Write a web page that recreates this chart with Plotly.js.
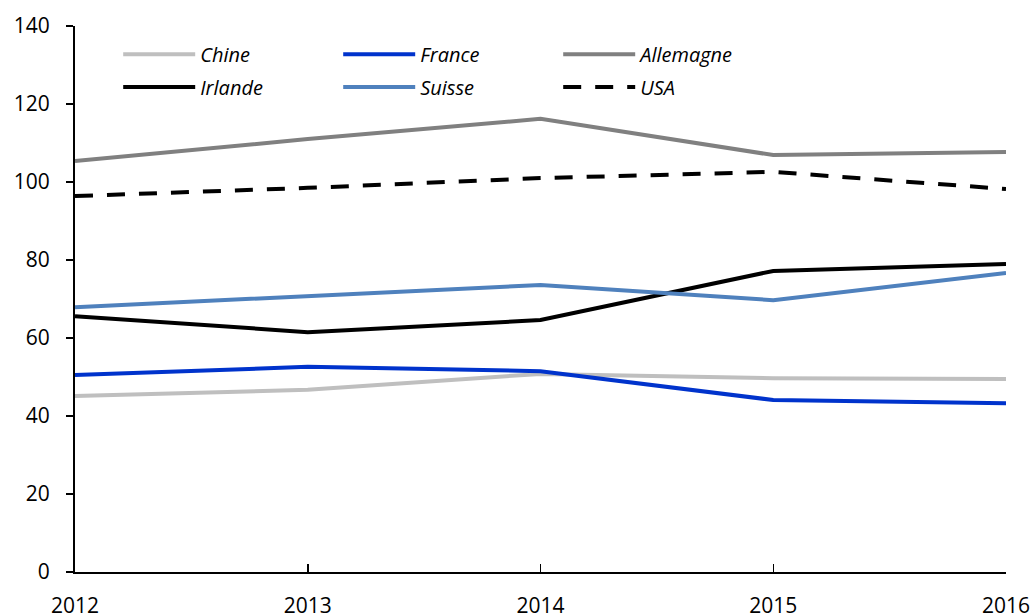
<!DOCTYPE html>
<html>
<head>
<meta charset="utf-8">
<script src="https://cdn.plot.ly/plotly-3.0.1.min.js"></script>
<style>
  html, body { margin: 0; padding: 0; background: #fff; }
  #chart { width: 1035px; height: 616px; }
</style>
</head>
<body>
<div id="chart"></div>
<script>
var years = [2012, 2013, 2014, 2015, 2016];

var chine     = [45.1, 46.7, 50.8, 49.7, 49.5];
var france    = [50.5, 52.6, 51.5, 44.1, 43.3];
var allemagne = [105.4, 111.0, 116.2, 106.9, 107.7];
var irlande   = [65.6, 61.5, 64.6, 77.2, 79.0];
var suisse    = [67.9, 70.8, 73.6, 69.7, 76.7];
var usa       = [96.4, 98.5, 101.0, 102.6, 98.2];

var yTicks = [0, 20, 40, 60, 80, 100, 120, 140];

function serie(name, y, color, dash, legend) {
    return {
        x: years, y: y, name: name, type: 'scatter', mode: 'lines',
        line: { color: color, width: 4, dash: dash || 'solid' },
        legend: legend
    };
}

var data = [
    serie('Chine', chine, '#bfbfbf', null, 'legend'),
    serie('France', france, '#0033cc', null, 'legend'),
    serie('Allemagne', allemagne, '#808080', null, 'legend'),
    serie('Irlande', irlande, '#000000', null, 'legend2'),
    serie('Suisse', suisse, '#4f81bd', null, 'legend2'),
    serie('USA', usa, '#000000', '18px,14px', 'legend2')
];

var fam = '"Open Sans", Lato, sans-serif';
var legendFont = { family: fam, size: 20, color: '#000', style: 'italic' };

var layout = {
    width: 1035,
    height: 616,
    margin: { l: 75, r: 29, t: 26, b: 44 },
    paper_bgcolor: '#fff',
    plot_bgcolor: '#fff',
    font: { family: fam, size: 21, color: '#000' },
    showlegend: true,
    xaxis: {
        range: [2012, 2016],
        tickvals: years,
        ticktext: years.map(String),
        showgrid: false,
        zeroline: false,
        showline: true,
        linecolor: '#000',
        linewidth: 2,
        ticks: 'inside',
        ticklen: 8,
        tickwidth: 1.5,
        tickcolor: '#000',
        ticklabelstandoff: 14,
        fixedrange: true
    },
    yaxis: {
        range: [0, 140],
        tickvals: yTicks,
        showgrid: false,
        zeroline: false,
        showline: true,
        linecolor: '#000',
        linewidth: 2,
        ticks: 'outside',
        ticklen: 7,
        tickwidth: 1.5,
        tickcolor: '#000',
        ticklabelstandoff: 12,
        fixedrange: true
    },
    legend: {
        orientation: 'h',
        x: 0.0464, y: 0.984, xanchor: 'left', yanchor: 'top',
        bgcolor: 'rgba(0,0,0,0)',
        font: legendFont,
        itemwidth: 72,
        entrywidth: 133,
        entrywidthmode: 'pixels',
        traceorder: 'normal'
    },
    legend2: {
        orientation: 'h',
        x: 0.0464, y: 0.924, xanchor: 'left', yanchor: 'top',
        bgcolor: 'rgba(0,0,0,0)',
        font: legendFont,
        itemwidth: 72,
        entrywidth: 133,
        entrywidthmode: 'pixels',
        traceorder: 'normal'
    }
};

Plotly.newPlot('chart', data, layout, { displayModeBar: false, staticPlot: true });
</script>
</body>
</html>
